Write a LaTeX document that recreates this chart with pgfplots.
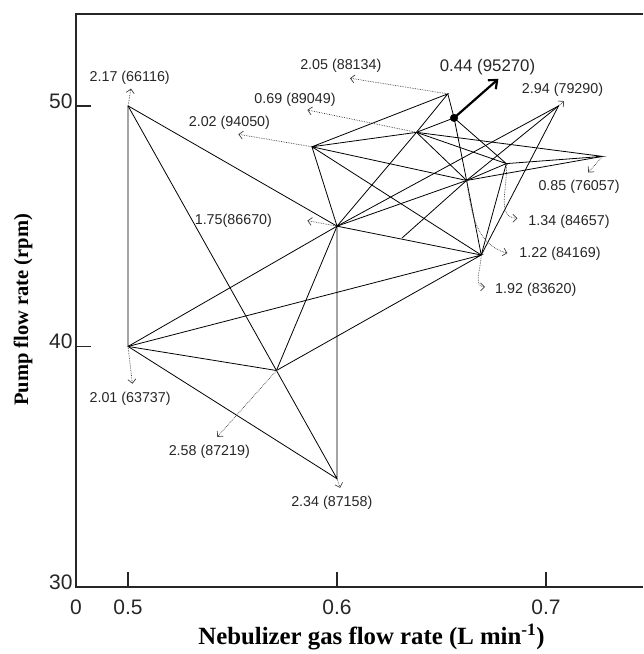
\documentclass[border=0pt]{standalone}
\usepackage{fontspec}
\setmainfont{Liberation Serif}
\newfontfamily\labfont{Liberation Sans}
\usepackage{pgfplots}
\pgfplotsset{compat=1.18}
\usetikzlibrary{arrows.meta}

\tikzset{
  edge/.style={black, line width=0.8pt, mark=none},
  ann/.style={densely dotted, black!75, line width=0.7pt, -{Straight Barb[length=4pt,width=8pt]}},
  lab/.style={font=\labfont\fontsize{14.3}{16}\selectfont, text=black!85, inner sep=0pt},
}

\begin{document}
\begin{tikzpicture}
\begin{axis}[
    scale only axis, width=567pt, height=573pt,
    xmin=0.4751, xmax=0.7464, ymin=30, ymax=53.82,
    axis line style={draw=none},
    xtick={0.4751,0.5,0.6,0.7}, xticklabels={0,0.5,0.6,0.7},
    ytick={30,40,50},
    tick align=inside, xtick pos=left, ytick pos=left,
    major tick length=15pt,
    tick style={line width=1.3pt, black!85},
    tick label style={font=\labfont\fontsize{21}{24}\selectfont, text=black!85},
    /pgf/number format/assume math mode=true,
    xticklabel style={yshift=-9pt},
    yticklabel style={yshift=5pt},
    clip=false,
  ]
  % frame: left, top, bottom (right side cut off in the original)
  \draw[line width=1.4pt, black!85] (rel axis cs:1,1) -- (rel axis cs:0,1) -- (rel axis cs:0,0) -- (rel axis cs:1,0);
  \coordinate (sw) at (rel axis cs:0,0);
  \coordinate (ne) at (rel axis cs:1,1);

  % simplex edges
  \addplot[edge] coordinates {(0.5,50) (0.5,40) (0.6,45) (0.5,50)};
  \addplot[edge] coordinates {(0.5,50) (0.571,39.0) (0.6,34.5) (0.6,45)};
  \addplot[edge] coordinates {(0.5,40) (0.6,34.5)};
  \addplot[edge] coordinates {(0.5,40) (0.571,39.0) (0.6,45)};
  \addplot[edge] coordinates {(0.571,39.0) (0.669,43.8) (0.5,40)};
  \addplot[edge] coordinates {(0.6,45) (0.669,43.8) (0.706,50.0) (0.6,45)};
  \addplot[edge] coordinates {(0.6,45) (0.588,48.3) (0.669,43.8)};
  \addplot[edge] coordinates {(0.588,48.3) (0.653,50.5) (0.638,48.9) (0.588,48.3)};
  \addplot[edge] coordinates {(0.6,45) (0.638,48.9)};
  \addplot[edge] coordinates {(0.653,50.5) (0.656,49.5) (0.662,46.9) (0.669,43.8)};
  \addplot[edge] coordinates {(0.638,48.9) (0.656,49.5) (0.681,47.6) (0.638,48.9)};
  \addplot[edge] coordinates {(0.638,48.9) (0.662,46.9) (0.588,48.3)};
  \addplot[edge] coordinates {(0.638,48.9) (0.727,47.9) (0.681,47.6) (0.669,43.8)};
  \addplot[edge] coordinates {(0.6,45) (0.662,46.9) (0.727,47.9)};
  \addplot[edge] coordinates {(0.662,46.9) (0.681,47.6)};
  \addplot[edge] coordinates {(0.631,44.5) (0.662,46.9) (0.706,50.0)};

  % best vertex
  \addplot[only marks, mark=*, mark size=3.8pt, black] coordinates {(0.656,49.5)};
  \draw[line width=2.2pt, black, -{Straight Barb[length=7pt,width=12pt]}] (axis cs:0.656,49.5) -- (axis cs:0.6772,51.12);
  \node[lab, font=\labfont\fontsize{16.8}{19}\selectfont] at (axis cs:0.6720,51.63) {0.44 (95270)};

  % annotations
  \draw[ann] (axis cs:0.5,50) -- (axis cs:0.5014,50.72);
  \node[lab] at (axis cs:0.5008,51.18) {2.17 (66116)};
  \draw[ann] (axis cs:0.5,40) -- (axis cs:0.5021,38.45);
  \node[lab] at (axis cs:0.5010,37.82) {2.01 (63737)};
  \draw[ann] (axis cs:0.571,39.0) -- (axis cs:0.5427,36.24);
  \node[lab] at (axis cs:0.5389,35.64) {2.58 (87219)};
  \draw[ann] (axis cs:0.6,34.5) -- (axis cs:0.6015,34.12);
  \node[lab] at (axis cs:0.5975,33.52) {2.34 (87158)};
  \draw[ann] (axis cs:0.6,45) -- (axis cs:0.5858,45.23);
  \node[lab] at (axis cs:0.5504,45.22) {1.75(86670)};
  \draw[ann] (axis cs:0.588,48.3) -- (axis cs:0.5528,48.82);
  \node[lab] at (axis cs:0.5485,49.28) {2.02 (94050)};
  \draw[ann] (axis cs:0.638,48.9) -- (axis cs:0.5858,49.83);
  \node[lab] at (axis cs:0.5799,50.25) {0.69 (89049)};
  \draw[ann] (axis cs:0.653,50.5) -- (axis cs:0.6062,51.15);
  \node[lab] at (axis cs:0.6018,51.67) {2.05 (88134)};
  \draw[ann] (axis cs:0.706,50.0) -- (axis cs:0.7086,50.2);
  \node[lab] at (axis cs:0.7079,50.66) {2.94 (79290)};
  \draw[ann] (axis cs:0.727,47.9) -- (axis cs:0.7202,47.23);
  \node[lab] at (axis cs:0.7158,46.65) {0.85 (76057)};
  \draw[ann] (axis cs:0.681,47.6) to[out=-85,in=180] (axis cs:0.6863,45.33);
  \node[lab] at (axis cs:0.7110,45.19) {1.34 (84657)};
  \draw[ann] (axis cs:0.662,46.9) to[out=-82,in=165] (axis cs:0.6815,43.88);
  \node[lab] at (axis cs:0.7067,43.84) {1.22 (84169)};
  \draw[ann] (axis cs:0.669,43.8) to[out=-90,in=180] (axis cs:0.6708,42.48);
  \node[lab] at (axis cs:0.6951,42.36) {1.92 (83620)};
\end{axis}
\node[font=\fontsize{24.8}{29}\selectfont\bfseries] at ([xshift=295.5pt,yshift=-50pt]sw) {Nebulizer gas flow rate (L min\textsuperscript{-1})};
\node[rotate=90, font=\fontsize{20.5}{24}\selectfont\bfseries] at ([xshift=-53pt,yshift=277pt]sw) {Pump flow rate (rpm)};
\pgfresetboundingbox
\path ([xshift=-76pt,yshift=-67pt]sw) rectangle ([yshift=14pt]ne);
\end{tikzpicture}
\end{document}
